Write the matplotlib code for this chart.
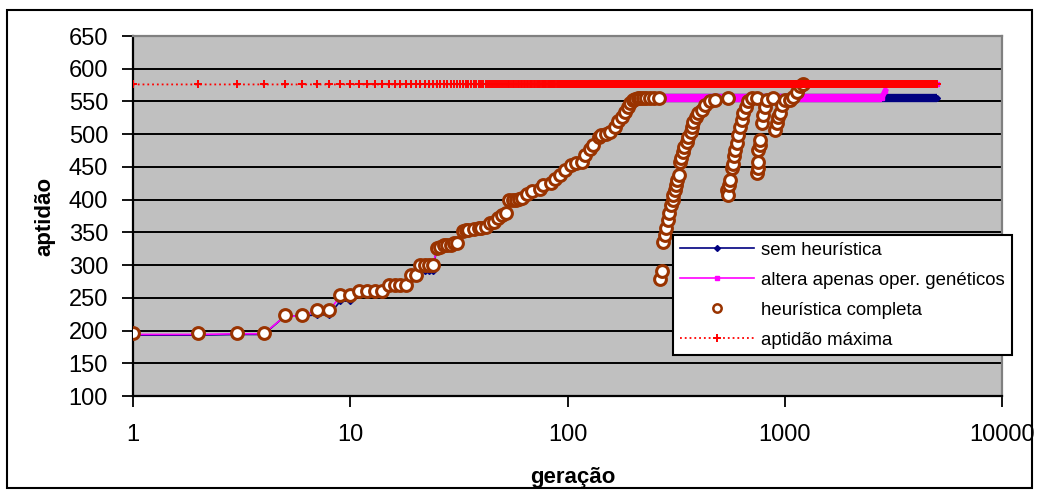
import numpy as np
import matplotlib
matplotlib.use('Agg')
import matplotlib.pyplot as plt
from matplotlib.patches import Rectangle

plt.rcParams['font.family'] = ['Liberation Sans', 'DejaVu Sans']

# ---------------------------
# dados
# ---------------------------
# sem heurística
ger_sem = list(range(1, 32)) + [33, 35, 37, 40, 42, 44, 46, 48, 50, 52,
           54, 56, 58, 60, 62, 65, 69, 75, 77, 84, 88, 92, 97,
           104, 110, 116, 121, 127, 131, 139, 143, 151, 157,
           165, 171, 178, 184, 190, 194, 201, 212, 5000]
apt_sem = [193, 193, 194, 194, 222, 222, 224, 224, 245, 245, 260, 260, 260, 260,
           268, 268, 268, 268, 283, 283, 291, 291, 291, 291, 325, 325, 330, 330,
           330, 332, 333,
           350, 352, 354, 355, 355, 362, 364, 370, 373, 376,
           396, 396, 398, 398, 400, 405, 410, 414, 420, 422, 428, 434, 443,
           450, 453, 455, 465, 474, 480, 493, 496, 499, 502,
           509, 517, 523, 531, 539, 545, 550, 556, 556]

# altera apenas oper. genéticos
ger_altera = list(range(1, 32)) + [33, 35, 37, 40, 42, 44, 46, 48, 50, 52,
              54, 56, 58, 60, 62, 65, 69, 75, 77, 84, 88, 92, 97,
              104, 110, 116, 121, 127, 131, 139, 143, 151, 157,
              165, 171, 178, 184, 190, 194, 201, 215, 2800, 2900, 3000, 5000]
apt_altera = [194, 194, 195, 195, 222, 222, 231, 231, 252, 252, 260, 260, 260, 260,
              269, 269, 269, 269, 283, 283, 298, 298, 298, 298, 324, 326, 329, 329,
              329, 332, 333,
              350, 352, 354, 355, 356, 362, 364, 370, 374, 378,
              397, 397, 398, 399, 400, 407, 411, 414, 420, 423, 429, 435, 444,
              451, 454, 456, 466, 475, 481, 494, 497, 499, 502,
              509, 518, 524, 532, 540, 546, 550, 556, 556, 566, 576, 576]

# heurística completa (corrida principal + reinícios)
ger_completa = list(range(1, 32)) + [33, 34, 35, 37, 39, 40, 42, 44, 46, 48, 50, 52,
                54, 56, 58, 60, 62, 65, 69, 75, 77, 84, 88, 92, 97,
                104, 110, 116, 121, 127, 131, 139, 143, 151, 157,
                165, 171, 178, 184, 190, 194, 201, 205, 210, 216, 222, 231, 240, 250, 265]
apt_completa = [196, 196, 196, 196, 223, 223, 232, 232, 254, 254, 261, 261, 261, 261,
                270, 270, 270, 270, 285, 285, 300, 300, 300, 300, 326, 328, 331, 331,
                331, 334, 334,
                352, 353, 354, 355, 356, 357, 358, 364, 366, 372, 376, 380,
                399, 399, 400, 401, 402, 409, 413, 416, 422, 425, 431, 437, 446,
                453, 456, 458, 468, 477, 483, 496, 499, 501, 504,
                511, 520, 526, 534, 542, 548, 552, 554, 555, 555, 555, 556, 555, 555, 555]

ger_reinicio1 = [267, 271, 276, 281, 284, 291, 294, 300, 305, 307, 312, 316, 320, 325, 330,
                 332, 339, 345, 354, 360, 369, 373, 380, 390, 400, 415, 430, 453, 478, 550]
apt_reinicio1 = [278, 291, 336, 346, 356, 369, 379, 392, 399, 407, 415, 422, 430, 438, 458,
                 463, 473, 481, 488, 496, 504, 511, 519, 527, 532, 537, 545, 550, 552, 555]
ger_reinicio2 = [545, 550, 556, 560, 570, 576, 586, 590, 605, 612, 622, 634, 645, 663, 680, 704, 743]
apt_reinicio2 = [415, 407, 422, 430, 448, 455, 466, 476, 486, 499, 511, 522, 532, 542, 550, 555, 555]
ger_reinicio3 = [743, 755, 755, 755, 769, 769, 784, 797, 811, 826, 885]
apt_reinicio3 = [440, 448, 458, 476, 483, 491, 517, 529, 542, 552, 555]
ger_reinicio4 = [902, 918, 934, 951, 968, 1002, 1057, 1095, 1135, 1175, 1210]
apt_reinicio4 = [506, 517, 527, 532, 545, 552, 552, 557, 565, 573, 577]

# aptidão máxima (registrada a cada geração)
ger_max = np.arange(1, 5001)
apt_max = 576

y_ticks = [100, 150, 200, 250, 300, 350, 400, 450, 500, 550, 600, 650]
x_ticks = [1, 10, 100, 1000, 10000]

# ---------------------------
# figura
# ---------------------------
W, H = 1039, 490
fig = plt.figure(figsize=(W / 100, H / 100), dpi=100)
ax = fig.add_axes([133 / W, 1 - 396 / H, (1002 - 133) / W, (396 - 36) / H])
ax.set_facecolor('#C0C0C0')

# moldura externa
fig.patches.append(Rectangle((7 / W, 2 / H), (1032 - 7) / W, (480 - 2) / H,
                             transform=fig.transFigure, fill=False,
                             edgecolor='black', lw=1.5))

for yv in y_ticks[1:-1]:
    ax.axhline(yv, color='black', lw=1.4, zorder=1)

navy = '#000080'
mag = '#FF00FF'
brown = '#993300'

ax.plot(ger_sem, apt_sem, color=navy, lw=1.2, marker='D', ms=3, zorder=2,
        label='sem heurística')
ax.plot(ger_sem[-2:], apt_sem[-2:], color=navy, lw=6, solid_capstyle='butt', zorder=2)

ax.plot(ger_altera, apt_altera, color=mag, lw=1.2, marker='s', ms=3, zorder=3,
        label='altera apenas oper. genéticos')
ax.plot(ger_altera[-5:-3], apt_altera[-5:-3], color=mag, lw=6, solid_capstyle='butt', zorder=3)
ax.plot(ger_altera[-4:-2], apt_altera[-4:-2], color=mag, lw=4, zorder=3)

ger_todos = ger_completa + ger_reinicio1 + ger_reinicio2 + ger_reinicio3 + ger_reinicio4
apt_todos = apt_completa + apt_reinicio1 + apt_reinicio2 + apt_reinicio3 + apt_reinicio4
ax.plot(ger_todos, apt_todos, ls='none', marker='o', ms=8.5, mfc='white',
        mec=brown, mew=2.2, zorder=4, label='heurística completa')

ax.plot(ger_max, np.full(len(ger_max), apt_max), color='red', ls=':', lw=1.3,
        marker='+', ms=5.5, mew=1.4, zorder=5, label='aptidão máxima')

ax.set_xscale('log')
ax.set_xlim(1, 10000)
ax.set_ylim(100, 650)
ax.set_yticks(y_ticks)
ax.set_xticks(x_ticks)
ax.set_xticklabels([str(v) for v in x_ticks])
ax.xaxis.set_minor_locator(matplotlib.ticker.NullLocator())
ax.tick_params(axis='both', direction='out', length=8, width=1.3, colors='black',
               labelsize=17)
ax.tick_params(axis='y', pad=10)
ax.tick_params(axis='x', pad=12)

for side in ['left', 'bottom']:
    ax.spines[side].set_color('black')
    ax.spines[side].set_linewidth(1.6)
for side in ['top', 'right']:
    ax.spines[side].set_color('#808080')
    ax.spines[side].set_linewidth(1.6)

fig.text(45 / W, 1 - 216 / H, 'aptidão', rotation=90, ha='center', va='center',
         fontsize=16, fontweight='bold')
fig.text(573 / W, 1 - 477 / H, 'geração', ha='center', va='center',
         fontsize=16, fontweight='bold')

leg = ax.legend(loc='upper left', bbox_to_anchor=(673 / W, 1 - 235 / H),
                bbox_transform=fig.transFigure, fontsize=13.4, frameon=True,
                fancybox=False, framealpha=1, edgecolor='black',
                handlelength=4.0, handletextpad=0.4, labelspacing=0.7,
                borderpad=0.35, borderaxespad=0, markerscale=1.0)
leg.get_frame().set_linewidth(1.5)
leg.set_zorder(10)
# marcador menor na legenda para a heurística completa
leg.legend_handles[2].set_markersize(6)
leg.legend_handles[2].set_markeredgewidth(1.8)

fig.savefig('out.png', dpi=100)
